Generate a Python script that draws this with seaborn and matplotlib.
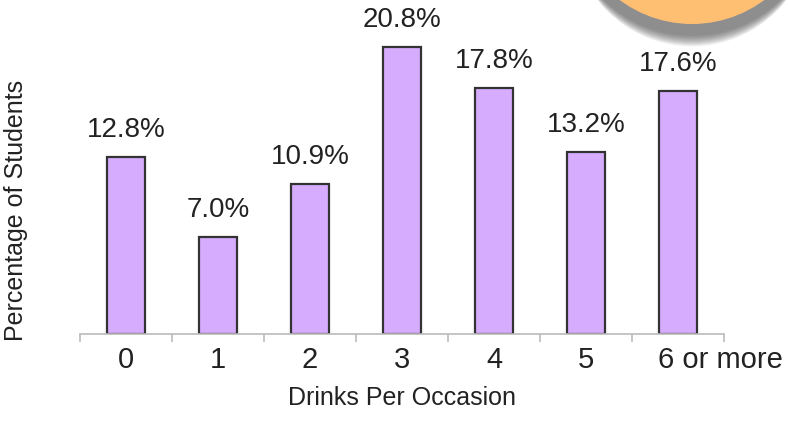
import numpy as np
import pandas as pd
import matplotlib
matplotlib.use('Agg')
import matplotlib.pyplot as plt
from matplotlib.patches import Circle
from matplotlib.ticker import FixedLocator, NullLocator
import matplotlib.transforms as mtransforms
import seaborn as sns

sns.set_style("white")
plt.rcParams['font.family'] = ['Liberation Sans', 'DejaVu Sans']

#=======================
drinks = ['0', '1', '2', '3', '4', '5', '6 or more']
percent = [12.8, 7.0, 10.9, 20.8, 17.8, 13.2, 17.6]
labels = ['12.8%', '7.0%', '10.9%', '20.8%', '17.8%', '13.2%', '17.6%']
#=======================

df = pd.DataFrame({'drinks': drinks, 'percent': percent})

fig = plt.figure(figsize=(7.88, 4.22), dpi=100)
ax = fig.add_axes([80/788, 1-334/422, 644/788, 334/422])

sns.barplot(data=df, x='drinks', y='percent', order=drinks, color='#D6ACFF',
            saturation=1, width=0.42, edgecolor='#333333', linewidth=1.6, ax=ax)

for i, (v, t) in enumerate(zip(percent, labels)):
    ax.annotate(t, (i, v), xytext=(0, 10), textcoords='offset points',
                ha='center', va='bottom', fontsize=20, color='#222222')

ax.set_xlim(-0.5, 6.5)
ax.set_ylim(0, 24.2)
ax.yaxis.set_major_locator(NullLocator())
for s in ['top', 'right', 'left']:
    ax.spines[s].set_visible(False)
ax.spines['bottom'].set_color('#bbbbbb')
ax.spines['bottom'].set_linewidth(1.2)

ax.xaxis.set_minor_locator(FixedLocator(np.arange(-0.5, 7, 1)))
ax.tick_params(axis='x', which='minor', direction='out', length=6, width=1.2,
               color='#bbbbbb', bottom=True)
ax.tick_params(axis='x', which='major', length=0, pad=9, labelsize=21,
               labelcolor='#222222')
# last label sits a bit to the right in the original
last = ax.get_xticklabels()[-1]
last.set_transform(last.get_transform() + mtransforms.ScaledTranslation(0.42, 0, fig.dpi_scale_trans))

ax.set_xlabel('Drinks Per Occasion', fontsize=18, color='#222222', labelpad=8)
ax.set_ylabel('Percentage of Students', fontsize=18, color='#222222')
ax.yaxis.set_label_coords(-52/644, 0.37)

# orange circle in corner, with soft shadow
cx, cy, r = 692, 422 + 97, 121
for k in range(16):
    fig.patches.append(Circle((cx, cy - 6 - k*1.2), r + 6 - k*0.5, transform=None,
                              facecolor='#444444', alpha=0.05, edgecolor='none'))
fig.patches.append(Circle((cx, cy), r, transform=None, facecolor='#FFBF73',
                          edgecolor='none'))

fig.savefig('out.png', dpi=100)
